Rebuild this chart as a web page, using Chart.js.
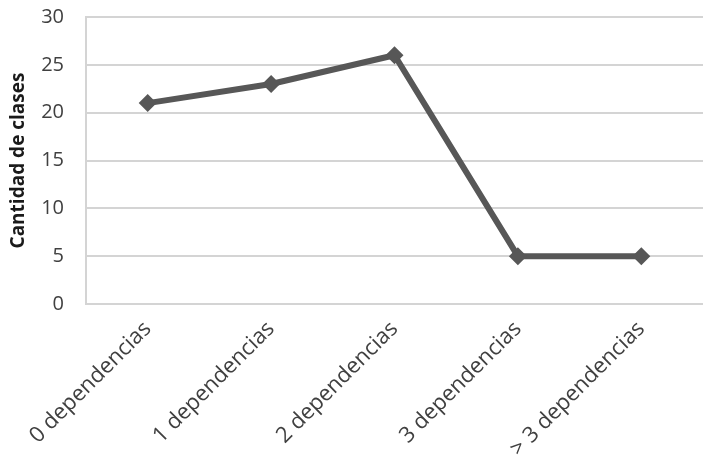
<!DOCTYPE html>
<html>
<head>
<meta charset="utf-8">
<script src="https://cdn.jsdelivr.net/npm/chart.js@4/dist/chart.umd.min.js"></script>
<style>
html,body{margin:0;padding:0;background:#fff;overflow:hidden;}
#wrap{width:703px;height:459px;position:relative;}
</style>
</head>
<body>
<div id="wrap"><canvas id="c" width="703" height="459"></canvas></div>
<script>
const categories = ["0 dependencias", "1 dependencias", "2 dependencias", "3 dependencias", "> 3 dependencias"];
const values = [21, 23, 26, 5, 5];
const yTitle = "Cantidad de clases";
const yMin = 0, yMax = 30, yStep = 5;

new Chart(document.getElementById('c'), {
  type: 'line',
  data: {
    labels: categories,
    datasets: [{
      data: values,
      borderColor: '#575757',
      backgroundColor: '#575757',
      borderWidth: 6,
      pointStyle: 'rectRot',
      pointRadius: 9,
      pointHoverRadius: 9,
      pointBorderWidth: 0,
      tension: 0
    }]
  },
  options: {
    responsive: false,
    animation: false,
    layout: { autoPadding: false, padding: { top: 17, right: -8, bottom: 0, left: 0 } },
    plugins: { legend: { display: false }, tooltip: { enabled: false } },
    scales: {
      x: {
        offset: true,
        grid: { display: false, drawTicks: false },
        border: { display: true, color: '#d4d4d4', width: 2 },
        ticks: {
          maxRotation: 45, minRotation: 45,
          padding: 12,
          color: '#404040',
          font: { family: 'Open Sans', size: 22 }
        },
        afterFit: s => { s.height = 155; s.paddingLeft = 0; s.paddingRight = 0; }
      },
      y: {
        min: yMin, max: yMax,
        grid: { color: '#d4d4d4', lineWidth: 2, drawTicks: false },
        border: { display: true, color: '#d4d4d4', width: 2 },
        ticks: {
          stepSize: yStep,
          padding: 22,
          color: '#404040',
          font: { family: 'Open Sans', size: 20 }
        },
        title: {
          display: true,
          text: yTitle,
          color: '#1a1a1a',
          padding: { top: 7, bottom: 0 },
          font: { family: 'Open Sans', size: 19, weight: 'bold' }
        },
        afterFit: s => { s.width = 86; s.paddingTop = 0; s.paddingBottom = 0; }
      }
    }
  }
});
</script>
</body>
</html>
